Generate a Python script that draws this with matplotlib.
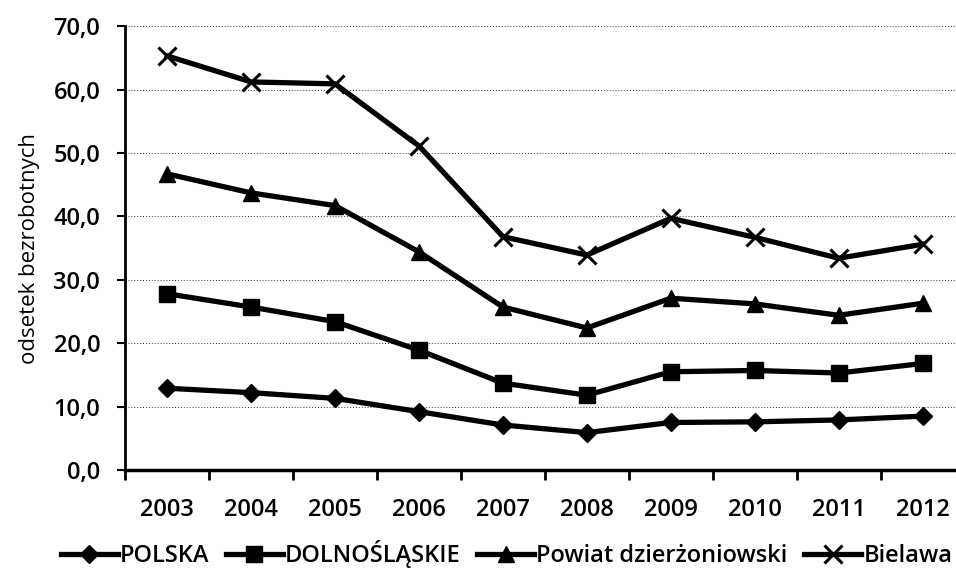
"""
Unemployment share chart: POLSKA / DOLNOŚLĄSKIE / Powiat dzierżoniowski / Bielawa.
"""

import matplotlib

matplotlib.use("Agg")
import matplotlib.pyplot as plt
from matplotlib.ticker import FuncFormatter

years = ["2003", "2004", "2005", "2006", "2007", "2008", "2009", "2010", "2011", "2012"]

polska = [12.9, 12.2, 11.3, 9.2, 7.1, 5.9, 7.5, 7.6, 7.9, 8.5]
dolnoslaskie = [27.8, 25.7, 23.4, 18.9, 13.7, 11.8, 15.5, 15.7, 15.3, 16.8]
powiat = [46.7, 43.7, 41.7, 34.4, 25.7, 22.4, 27.1, 26.2, 24.4, 26.3]
bielawa = [65.3, 61.2, 60.9, 51.1, 36.8, 33.9, 39.7, 36.7, 33.4, 35.6]

series_labels = ["POLSKA", "DOLNOŚLĄSKIE", "Powiat dzierżoniowski", "Bielawa"]
y_ticks = [0, 10, 20, 30, 40, 50, 60, 70]

plt.rcParams["font.family"] = ["Open Sans", "DejaVu Sans"]
plt.rcParams["font.weight"] = "semibold"

fig = plt.figure(figsize=(9.56, 5.81), dpi=100)
ax = fig.add_axes([0.131, 0.191, 0.878, 0.764])

x = list(range(len(years)))
styles = [
    dict(marker="D", markersize=9),
    dict(marker="s", markersize=12),
    dict(marker="^", markersize=12),
    dict(marker="x", markersize=13, markeredgewidth=2.2),
]
for values, label, st in zip([polska, dolnoslaskie, powiat, bielawa], series_labels, styles):
    ax.plot(x, values, color="black", linewidth=3.8, label=label,
            markerfacecolor="black", markeredgecolor="black", **st)

ax.set_xlim(-0.5, len(years) - 0.5)
ax.set_ylim(0, 70)
ax.set_yticks(y_ticks)
ax.yaxis.set_major_formatter(FuncFormatter(lambda v, _: f"{v:.1f}".replace(".", ",")))
ax.set_xticks(x)
ax.set_xticklabels(years)
ax.set_xticks([i - 0.5 for i in range(len(years) + 1)], minor=True)
ax.tick_params(axis="x", which="major", length=0, pad=20, labelsize=17)
ax.tick_params(axis="x", which="minor", length=7, width=2, direction="out")
ax.tick_params(axis="y", length=6, width=1.5, pad=12, labelsize=17)

ax.grid(axis="y", color="#333333", linestyle=(0, (1, 2)), linewidth=0.7)
ax.set_axisbelow(True)

ax.spines["top"].set_visible(False)
ax.spines["right"].set_visible(False)
ax.spines["left"].set_linewidth(2)
ax.spines["bottom"].set_linewidth(2.5)

ax.set_ylabel("odsetek bezrobotnych", fontsize=16, labelpad=10)

fig.legend(loc="lower center", bbox_to_anchor=(0.53, -0.015), ncol=4, frameon=False,
           fontsize=17, handlelength=2.4, handletextpad=0.1, columnspacing=0.7)

fig.savefig("out.png", dpi=100)
plt.close(fig)
